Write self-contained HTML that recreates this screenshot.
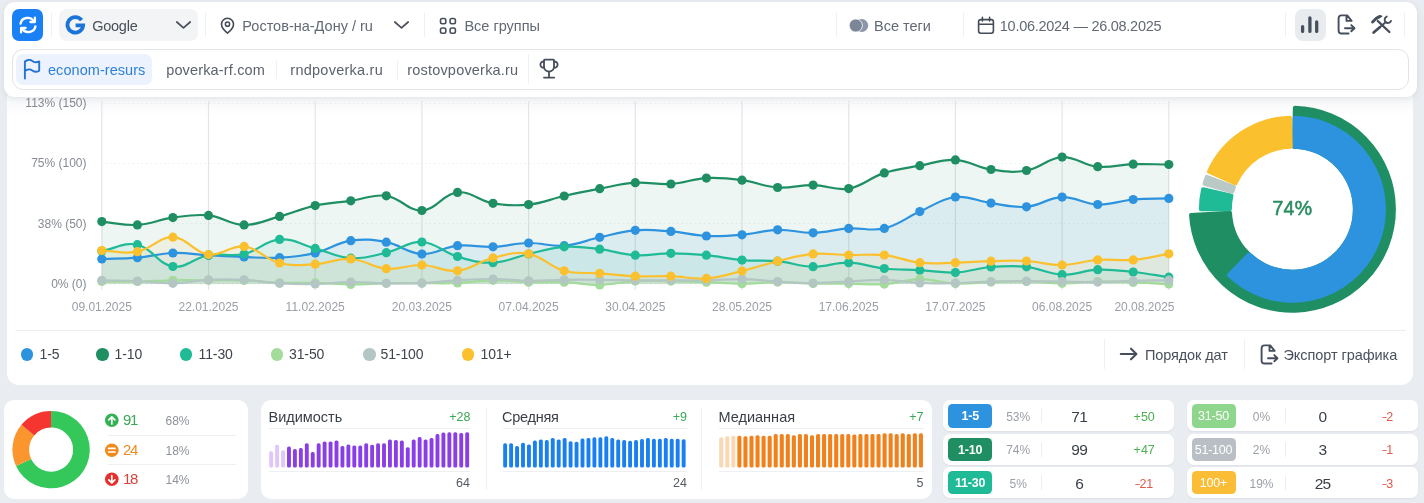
<!DOCTYPE html>
<html><head><meta charset="utf-8"><title>dashboard</title>
<style>
*{box-sizing:border-box;margin:0;padding:0}
html,body{width:1424px;height:503px;overflow:hidden}
body{background:#e9ecf0;font-family:"Liberation Sans",sans-serif;position:relative;color:#4a5060}
.abs{position:absolute}
.card{position:absolute;background:#fff;border-radius:10px}
.t{position:absolute;white-space:nowrap;line-height:1}
.hsep{position:absolute;width:1px;background:#eef0f3}
.xl{position:absolute;top:300px;width:80px;text-align:center;font-size:12px;color:#9a9ea6;line-height:14px;white-space:nowrap}
.yl{position:absolute;left:16px;width:70.5px;text-align:right;font-size:12px;color:#868b93;line-height:14px;white-space:nowrap}
.leg{position:absolute;top:346.2px;font-size:14px;line-height:16px;color:#3f444c;white-space:nowrap;letter-spacing:-.1px}
.dot{position:absolute;top:348px;width:12.5px;height:12.5px;border-radius:50%}
.trow{position:absolute;width:231px;height:31px;background:#fff;border-radius:7px;box-shadow:0 1px 2px rgba(40,50,70,.06)}
.badge{position:absolute;left:5px;top:3.9px;padding-top:.9px;width:44px;height:23.3px;border-radius:4.5px;color:#fff;font-weight:700;font-size:12.5px;line-height:22.5px;text-align:center;letter-spacing:-.2px}
.pct{position:absolute;left:50px;width:50px;top:9.5px;text-align:center;font-size:12px;line-height:14px;color:#9a9fa6}
.vsep{position:absolute;left:98px;top:8px;width:1px;height:15px;background:#eceef1}
.val{position:absolute;left:106px;width:60px;top:7.4px;text-align:center;font-size:15.5px;line-height:18px;color:#3a3f47;letter-spacing:-.8px}
.dl{position:absolute;left:171px;width:60px;top:9.7px;text-align:center;font-size:12.5px;line-height:15px}
.mt{position:absolute;top:409px;font-size:14.5px;line-height:17px;color:#3a3f47;white-space:nowrap}
.md{position:absolute;top:410px;font-size:12.5px;line-height:15px;color:#3aa856;text-align:right;white-space:nowrap}
.mv{position:absolute;top:476px;font-size:12.5px;line-height:15px;color:#555a62;text-align:right;white-space:nowrap}
.ml{position:absolute;height:1px;background:#edeff2}
.srow{position:absolute;left:123px;font-size:15px;line-height:18px;white-space:nowrap;letter-spacing:-1.3px;margin-top:-.6px}
.spct{position:absolute;left:165.5px;font-size:12px;line-height:14px;color:#8e939b;white-space:nowrap}
</style></head><body><div id="root" style="position:absolute;left:0;top:0;width:1424px;height:503px;will-change:transform;">

<!-- chart card -->
<div class="card" style="left:7px;top:88px;width:1406px;height:296.5px;border-radius:12px"></div>
<div class="abs" style="left:7px;top:96px;width:1406px;height:20px;background:linear-gradient(#f6f7f9,#fff)"></div>

<svg class="abs" style="left:0;top:0" width="1424" height="503" viewBox="0 0 1424 503">
<defs><linearGradient id="sh" x1="0" y1="0" x2="0" y2="1"><stop offset="0" stop-color="#dfe3ea" stop-opacity=".9"/><stop offset="1" stop-color="#ffffff" stop-opacity="0"/></linearGradient></defs>
<line x1="101.8" y1="101" x2="101.8" y2="290" stroke="#e3e5e9" stroke-width="1.2"/><line x1="208.5" y1="101" x2="208.5" y2="290" stroke="#e3e5e9" stroke-width="1.2"/><line x1="315.2" y1="101" x2="315.2" y2="290" stroke="#e3e5e9" stroke-width="1.2"/><line x1="421.9" y1="101" x2="421.9" y2="290" stroke="#e3e5e9" stroke-width="1.2"/><line x1="528.6" y1="101" x2="528.6" y2="290" stroke="#e3e5e9" stroke-width="1.2"/><line x1="635.3" y1="101" x2="635.3" y2="290" stroke="#e3e5e9" stroke-width="1.2"/><line x1="742.0" y1="101" x2="742.0" y2="290" stroke="#e3e5e9" stroke-width="1.2"/><line x1="848.7" y1="101" x2="848.7" y2="290" stroke="#e3e5e9" stroke-width="1.2"/><line x1="955.4" y1="101" x2="955.4" y2="290" stroke="#e3e5e9" stroke-width="1.2"/><line x1="1062.1" y1="101" x2="1062.1" y2="290" stroke="#e3e5e9" stroke-width="1.2"/><line x1="1168.8" y1="101" x2="1168.8" y2="290" stroke="#e3e5e9" stroke-width="1.2"/><line x1="101" y1="103.5" x2="1169" y2="103.5" stroke="#eceef1" stroke-width="1" stroke-dasharray="1.5 3"/><line x1="101" y1="163.5" x2="1169" y2="163.5" stroke="#eceef1" stroke-width="1" stroke-dasharray="1.5 3"/><line x1="101" y1="223.5" x2="1169" y2="223.5" stroke="#eceef1" stroke-width="1" stroke-dasharray="1.5 3"/><line x1="101" y1="284.0" x2="1169" y2="284.0" stroke="#eceef1" stroke-width="1" stroke-dasharray="1.5 3"/>
<path d="M101.8 259.0 C116.0 258.5 123.2 258.9 137.4 257.7 C151.7 256.5 158.7 253.5 172.9 253.0 C187.1 252.5 194.3 254.4 208.5 255.2 C222.7 256.0 229.8 256.5 244.1 257.0 C258.3 257.5 265.5 258.5 279.6 257.7 C293.9 256.9 301.3 256.3 315.2 253.0 C329.8 249.5 336.1 242.9 350.8 240.7 C364.6 238.6 372.5 239.6 386.3 242.2 C400.9 244.9 407.5 253.3 421.9 254.0 C435.9 254.7 443.1 247.2 457.5 245.7 C471.5 244.3 478.8 247.3 493.0 246.8 C507.3 246.3 514.4 243.2 528.6 243.0 C542.8 242.8 550.1 246.8 564.2 245.7 C578.6 244.5 585.5 240.4 599.7 237.3 C613.9 234.2 620.9 231.5 635.3 230.3 C649.4 229.1 656.7 230.3 670.9 231.4 C685.2 232.5 692.2 235.3 706.4 236.0 C720.6 236.7 727.8 236.0 742.0 234.8 C756.3 233.6 763.3 230.2 777.6 229.8 C791.8 229.4 798.9 233.1 813.1 232.8 C827.4 232.5 834.4 229.3 848.7 228.4 C862.9 227.5 870.8 231.6 884.3 228.4 C899.2 224.9 905.5 218.0 919.8 211.6 C933.9 205.4 940.7 198.8 955.4 197.0 C969.2 195.4 976.7 201.1 991.0 203.1 C1005.1 205.1 1012.5 208.0 1026.5 206.8 C1041.0 205.6 1047.8 197.6 1062.1 197.1 C1076.2 196.6 1083.4 204.0 1097.7 204.5 C1111.8 205.0 1118.9 200.7 1133.2 199.5 C1147.4 198.3 1154.6 198.8 1168.8 198.4 L1168.8 284.0 L101.8 284.0 Z" fill="#2d93de" fill-opacity="0.09"/>
<path d="M101.8 221.6 C116.0 222.9 123.3 225.7 137.4 224.9 C151.7 224.1 158.6 219.5 172.9 217.6 C187.0 215.7 194.5 214.0 208.5 215.4 C223.0 216.9 229.8 224.7 244.1 224.9 C258.2 225.1 265.5 220.2 279.6 216.4 C294.0 212.5 300.7 208.8 315.2 205.6 C329.2 202.5 336.5 202.8 350.8 200.8 C365.0 198.8 372.6 193.9 386.3 195.8 C401.1 197.8 407.9 211.2 421.9 210.5 C436.4 209.8 442.7 193.9 457.5 192.4 C471.2 191.0 478.5 200.8 493.0 203.3 C506.9 205.7 514.6 206.0 528.6 204.6 C543.0 203.1 549.9 199.2 564.2 196.0 C578.3 192.8 585.5 191.4 599.7 188.7 C613.9 186.0 621.0 183.6 635.3 182.7 C649.4 181.8 656.7 184.9 670.9 184.0 C685.2 183.1 692.1 178.9 706.4 178.1 C720.6 177.3 727.9 178.3 742.0 180.2 C756.4 182.1 763.2 186.5 777.6 187.5 C791.7 188.5 798.9 184.9 813.1 185.1 C827.4 185.3 835.1 190.9 848.7 188.6 C863.5 186.1 869.6 177.6 884.3 172.9 C898.0 168.5 905.6 168.3 919.8 165.7 C934.0 163.1 941.3 159.1 955.4 159.9 C969.8 160.7 976.5 167.3 991.0 169.5 C1005.0 171.6 1012.8 172.9 1026.5 170.5 C1041.2 167.9 1047.7 157.9 1062.1 157.1 C1076.1 156.4 1083.2 165.3 1097.7 166.7 C1111.7 168.1 1119.0 164.6 1133.2 164.2 C1147.5 163.8 1154.6 164.4 1168.8 164.5 L1168.8 284.0 L101.8 284.0 Z" fill="#1f8f63" fill-opacity="0.08"/>
<path d="M101.8 251.0 C116.0 248.5 124.2 241.8 137.4 244.7 C152.6 248.0 157.9 264.3 172.9 266.5 C186.4 268.5 193.9 257.8 208.5 255.2 C222.4 252.8 230.4 257.0 244.1 254.0 C258.8 250.7 265.1 240.5 279.6 239.4 C293.5 238.3 301.0 244.7 315.2 248.4 C329.5 252.2 336.4 257.3 350.8 258.2 C364.8 259.0 372.3 255.9 386.3 252.7 C400.8 249.4 407.9 241.3 421.9 242.0 C436.4 242.8 442.8 252.2 457.5 256.5 C471.3 260.5 478.9 263.2 493.0 262.7 C507.4 262.2 514.3 257.2 528.6 254.0 C542.8 250.8 549.8 247.8 564.2 246.8 C578.3 245.8 585.6 247.5 599.7 249.2 C614.0 250.9 621.0 254.4 635.3 255.2 C649.4 256.0 656.6 253.3 670.9 253.3 C685.1 253.3 692.3 253.8 706.4 255.2 C720.7 256.6 727.7 258.9 742.0 260.1 C756.2 261.3 763.4 259.9 777.6 261.2 C791.9 262.5 798.9 266.4 813.1 266.7 C827.3 267.0 834.5 262.3 848.7 262.7 C863.0 263.1 870.0 267.0 884.3 268.5 C898.4 270.0 905.6 269.4 919.8 270.2 C934.1 271.0 941.3 273.1 955.4 272.5 C969.7 271.9 976.7 268.1 991.0 267.0 C1005.1 265.9 1012.5 265.3 1026.5 266.8 C1040.9 268.4 1047.8 274.1 1062.1 274.7 C1076.2 275.3 1083.4 270.2 1097.7 269.7 C1111.8 269.2 1119.1 270.5 1133.2 272.0 C1147.5 273.5 1154.6 275.1 1168.8 277.2 L1168.8 284.0 L101.8 284.0 Z" fill="#1fba96" fill-opacity="0.085"/>
<path d="M101.8 281.5 C116.0 281.5 123.1 281.7 137.4 281.5 C151.6 281.3 158.7 280.5 172.9 280.3 C187.2 280.1 194.3 280.3 208.5 280.3 C222.7 280.3 229.9 279.8 244.1 280.3 C258.3 280.8 265.4 282.3 279.6 282.8 C293.8 283.3 301.0 282.5 315.2 282.8 C329.4 283.1 336.5 284.4 350.8 284.5 C365.0 284.6 372.1 283.6 386.3 283.3 C400.6 283.0 407.7 283.3 421.9 283.2 C436.1 283.1 443.3 283.6 457.5 283.0 C471.7 282.4 478.8 280.5 493.0 280.3 C507.3 280.1 514.4 281.8 528.6 282.2 C542.8 282.6 550.0 281.7 564.2 282.2 C578.4 282.7 585.5 285.1 599.7 284.9 C614.0 284.7 621.0 281.9 635.3 281.1 C649.5 280.3 656.6 280.9 670.9 281.1 C685.1 281.3 692.2 281.7 706.4 282.2 C720.7 282.7 727.8 283.7 742.0 283.7 C756.2 283.7 763.3 282.1 777.6 282.1 C791.8 282.1 798.9 283.3 813.1 283.6 C827.4 283.9 834.5 283.5 848.7 283.6 C862.9 283.7 870.1 285.0 884.3 284.1 C898.6 283.2 905.6 279.3 919.8 279.2 C934.1 279.1 941.1 283.0 955.4 283.6 C969.6 284.2 976.7 282.5 991.0 282.1 C1005.2 281.7 1012.3 281.3 1026.5 281.5 C1040.8 281.7 1047.9 283.3 1062.1 283.3 C1076.3 283.3 1083.4 281.7 1097.7 281.5 C1111.9 281.3 1119.0 281.9 1133.2 282.4 C1147.5 282.9 1154.6 283.4 1168.8 284.0 L1168.8 284.0 L101.8 284.0 Z" fill="#a3db9b" fill-opacity="0.09"/>
<path d="M101.8 280.3 C116.0 280.6 123.2 280.4 137.4 281.0 C151.6 281.6 158.7 283.5 172.9 283.3 C187.2 283.1 194.2 280.5 208.5 279.8 C222.7 279.1 229.9 279.1 244.1 279.8 C258.3 280.5 265.4 282.5 279.6 283.3 C293.8 284.1 301.0 284.3 315.2 284.0 C329.4 283.7 336.5 282.1 350.8 282.0 C365.0 281.9 372.1 283.1 386.3 283.3 C400.6 283.5 407.7 283.7 421.9 283.1 C436.2 282.5 443.2 281.1 457.5 280.3 C471.7 279.5 478.8 278.9 493.0 279.0 C507.3 279.1 514.4 280.6 528.6 280.8 C542.8 281.0 549.9 280.0 564.2 279.8 C578.4 279.6 585.5 279.7 599.7 279.8 C614.0 279.9 621.1 280.2 635.3 280.3 C649.5 280.4 656.6 280.3 670.9 280.3 C685.1 280.3 692.2 280.5 706.4 280.3 C720.7 280.1 727.8 278.9 742.0 279.1 C756.2 279.3 763.3 280.7 777.6 281.5 C791.8 282.3 798.9 283.0 813.1 283.0 C827.4 283.0 834.5 282.1 848.7 281.5 C862.9 280.9 870.1 279.5 884.3 279.8 C898.5 280.1 905.6 282.4 919.8 283.0 C934.0 283.6 941.2 283.3 955.4 283.0 C969.6 282.7 976.7 281.9 991.0 281.5 C1005.2 281.1 1012.3 281.2 1026.5 281.2 C1040.8 281.2 1047.9 281.3 1062.1 281.5 C1076.3 281.7 1083.5 282.2 1097.7 282.1 C1111.9 282.0 1119.0 281.3 1133.2 280.9 C1147.5 280.5 1154.6 280.5 1168.8 280.2 L1168.8 284.0 L101.8 284.0 Z" fill="#b3c6c3" fill-opacity="0.09"/>
<path d="M101.8 250.5 C116.0 251.0 123.7 254.3 137.4 251.7 C152.1 248.9 158.9 236.6 172.9 237.2 C187.4 237.8 193.7 252.6 208.5 254.5 C222.2 256.3 230.4 244.8 244.1 246.4 C258.8 248.2 264.7 259.3 279.6 263.0 C293.2 266.4 301.0 265.0 315.2 264.2 C329.5 263.4 336.7 258.1 350.8 259.0 C365.2 259.9 371.9 267.5 386.3 268.7 C400.3 269.9 407.7 264.6 421.9 265.0 C436.2 265.4 443.6 272.2 457.5 270.8 C472.0 269.3 478.4 261.4 493.0 257.9 C506.9 254.6 515.1 251.3 528.6 253.8 C543.5 256.5 549.2 266.7 564.2 270.8 C577.7 274.5 585.5 272.2 599.7 273.3 C614.0 274.4 621.1 275.6 635.3 276.2 C649.5 276.8 656.7 275.8 670.9 276.2 C685.1 276.6 692.3 279.4 706.4 278.4 C720.8 277.3 727.9 274.4 742.0 271.0 C756.3 267.5 763.2 264.6 777.6 261.2 C791.7 257.8 798.8 255.1 813.1 253.9 C827.2 252.7 834.5 254.9 848.7 255.1 C862.9 255.3 870.2 253.6 884.3 255.1 C898.7 256.6 905.5 261.2 919.8 262.7 C933.9 264.2 941.2 263.0 955.4 262.7 C969.6 262.4 976.7 261.5 991.0 261.2 C1005.2 260.9 1012.4 260.2 1026.5 261.0 C1040.8 261.8 1047.9 265.2 1062.1 265.0 C1076.4 264.8 1083.4 260.9 1097.7 259.9 C1111.8 258.9 1119.1 261.1 1133.2 259.9 C1147.6 258.7 1154.6 256.2 1168.8 253.8 L1168.8 284.0 L101.8 284.0 Z" fill="#fbc02d" fill-opacity="0.085"/>
<path d="M101.8 259.0 C116.0 258.5 123.2 258.9 137.4 257.7 C151.7 256.5 158.7 253.5 172.9 253.0 C187.1 252.5 194.3 254.4 208.5 255.2 C222.7 256.0 229.8 256.5 244.1 257.0 C258.3 257.5 265.5 258.5 279.6 257.7 C293.9 256.9 301.3 256.3 315.2 253.0 C329.8 249.5 336.1 242.9 350.8 240.7 C364.6 238.6 372.5 239.6 386.3 242.2 C400.9 244.9 407.5 253.3 421.9 254.0 C435.9 254.7 443.1 247.2 457.5 245.7 C471.5 244.3 478.8 247.3 493.0 246.8 C507.3 246.3 514.4 243.2 528.6 243.0 C542.8 242.8 550.1 246.8 564.2 245.7 C578.6 244.5 585.5 240.4 599.7 237.3 C613.9 234.2 620.9 231.5 635.3 230.3 C649.4 229.1 656.7 230.3 670.9 231.4 C685.2 232.5 692.2 235.3 706.4 236.0 C720.6 236.7 727.8 236.0 742.0 234.8 C756.3 233.6 763.3 230.2 777.6 229.8 C791.8 229.4 798.9 233.1 813.1 232.8 C827.4 232.5 834.4 229.3 848.7 228.4 C862.9 227.5 870.8 231.6 884.3 228.4 C899.2 224.9 905.5 218.0 919.8 211.6 C933.9 205.4 940.7 198.8 955.4 197.0 C969.2 195.4 976.7 201.1 991.0 203.1 C1005.1 205.1 1012.5 208.0 1026.5 206.8 C1041.0 205.6 1047.8 197.6 1062.1 197.1 C1076.2 196.6 1083.4 204.0 1097.7 204.5 C1111.8 205.0 1118.9 200.7 1133.2 199.5 C1147.4 198.3 1154.6 198.8 1168.8 198.4" fill="none" stroke="#2d93de" stroke-width="2.2" stroke-linejoin="round" stroke-linecap="round"/>
<g fill="#2d93de"><circle cx="101.8" cy="259.0" r="4.6"/><circle cx="137.4" cy="257.7" r="4.6"/><circle cx="172.9" cy="253.0" r="4.6"/><circle cx="208.5" cy="255.2" r="4.6"/><circle cx="244.1" cy="257.0" r="4.6"/><circle cx="279.6" cy="257.7" r="4.6"/><circle cx="315.2" cy="253.0" r="4.6"/><circle cx="350.8" cy="240.7" r="4.6"/><circle cx="386.3" cy="242.2" r="4.6"/><circle cx="421.9" cy="254.0" r="4.6"/><circle cx="457.5" cy="245.7" r="4.6"/><circle cx="493.0" cy="246.8" r="4.6"/><circle cx="528.6" cy="243.0" r="4.6"/><circle cx="564.2" cy="245.7" r="4.6"/><circle cx="599.7" cy="237.3" r="4.6"/><circle cx="635.3" cy="230.3" r="4.6"/><circle cx="670.9" cy="231.4" r="4.6"/><circle cx="706.4" cy="236.0" r="4.6"/><circle cx="742.0" cy="234.8" r="4.6"/><circle cx="777.6" cy="229.8" r="4.6"/><circle cx="813.1" cy="232.8" r="4.6"/><circle cx="848.7" cy="228.4" r="4.6"/><circle cx="884.3" cy="228.4" r="4.6"/><circle cx="919.8" cy="211.6" r="4.6"/><circle cx="955.4" cy="197.0" r="4.6"/><circle cx="991.0" cy="203.1" r="4.6"/><circle cx="1026.5" cy="206.8" r="4.6"/><circle cx="1062.1" cy="197.1" r="4.6"/><circle cx="1097.7" cy="204.5" r="4.6"/><circle cx="1133.2" cy="199.5" r="4.6"/><circle cx="1168.8" cy="198.4" r="4.6"/></g>
<path d="M101.8 221.6 C116.0 222.9 123.3 225.7 137.4 224.9 C151.7 224.1 158.6 219.5 172.9 217.6 C187.0 215.7 194.5 214.0 208.5 215.4 C223.0 216.9 229.8 224.7 244.1 224.9 C258.2 225.1 265.5 220.2 279.6 216.4 C294.0 212.5 300.7 208.8 315.2 205.6 C329.2 202.5 336.5 202.8 350.8 200.8 C365.0 198.8 372.6 193.9 386.3 195.8 C401.1 197.8 407.9 211.2 421.9 210.5 C436.4 209.8 442.7 193.9 457.5 192.4 C471.2 191.0 478.5 200.8 493.0 203.3 C506.9 205.7 514.6 206.0 528.6 204.6 C543.0 203.1 549.9 199.2 564.2 196.0 C578.3 192.8 585.5 191.4 599.7 188.7 C613.9 186.0 621.0 183.6 635.3 182.7 C649.4 181.8 656.7 184.9 670.9 184.0 C685.2 183.1 692.1 178.9 706.4 178.1 C720.6 177.3 727.9 178.3 742.0 180.2 C756.4 182.1 763.2 186.5 777.6 187.5 C791.7 188.5 798.9 184.9 813.1 185.1 C827.4 185.3 835.1 190.9 848.7 188.6 C863.5 186.1 869.6 177.6 884.3 172.9 C898.0 168.5 905.6 168.3 919.8 165.7 C934.0 163.1 941.3 159.1 955.4 159.9 C969.8 160.7 976.5 167.3 991.0 169.5 C1005.0 171.6 1012.8 172.9 1026.5 170.5 C1041.2 167.9 1047.7 157.9 1062.1 157.1 C1076.1 156.4 1083.2 165.3 1097.7 166.7 C1111.7 168.1 1119.0 164.6 1133.2 164.2 C1147.5 163.8 1154.6 164.4 1168.8 164.5" fill="none" stroke="#1f8f63" stroke-width="2.2" stroke-linejoin="round" stroke-linecap="round"/>
<g fill="#1f8f63"><circle cx="101.8" cy="221.6" r="4.6"/><circle cx="137.4" cy="224.9" r="4.6"/><circle cx="172.9" cy="217.6" r="4.6"/><circle cx="208.5" cy="215.4" r="4.6"/><circle cx="244.1" cy="224.9" r="4.6"/><circle cx="279.6" cy="216.4" r="4.6"/><circle cx="315.2" cy="205.6" r="4.6"/><circle cx="350.8" cy="200.8" r="4.6"/><circle cx="386.3" cy="195.8" r="4.6"/><circle cx="421.9" cy="210.5" r="4.6"/><circle cx="457.5" cy="192.4" r="4.6"/><circle cx="493.0" cy="203.3" r="4.6"/><circle cx="528.6" cy="204.6" r="4.6"/><circle cx="564.2" cy="196.0" r="4.6"/><circle cx="599.7" cy="188.7" r="4.6"/><circle cx="635.3" cy="182.7" r="4.6"/><circle cx="670.9" cy="184.0" r="4.6"/><circle cx="706.4" cy="178.1" r="4.6"/><circle cx="742.0" cy="180.2" r="4.6"/><circle cx="777.6" cy="187.5" r="4.6"/><circle cx="813.1" cy="185.1" r="4.6"/><circle cx="848.7" cy="188.6" r="4.6"/><circle cx="884.3" cy="172.9" r="4.6"/><circle cx="919.8" cy="165.7" r="4.6"/><circle cx="955.4" cy="159.9" r="4.6"/><circle cx="991.0" cy="169.5" r="4.6"/><circle cx="1026.5" cy="170.5" r="4.6"/><circle cx="1062.1" cy="157.1" r="4.6"/><circle cx="1097.7" cy="166.7" r="4.6"/><circle cx="1133.2" cy="164.2" r="4.6"/><circle cx="1168.8" cy="164.5" r="4.6"/></g>
<path d="M101.8 251.0 C116.0 248.5 124.2 241.8 137.4 244.7 C152.6 248.0 157.9 264.3 172.9 266.5 C186.4 268.5 193.9 257.8 208.5 255.2 C222.4 252.8 230.4 257.0 244.1 254.0 C258.8 250.7 265.1 240.5 279.6 239.4 C293.5 238.3 301.0 244.7 315.2 248.4 C329.5 252.2 336.4 257.3 350.8 258.2 C364.8 259.0 372.3 255.9 386.3 252.7 C400.8 249.4 407.9 241.3 421.9 242.0 C436.4 242.8 442.8 252.2 457.5 256.5 C471.3 260.5 478.9 263.2 493.0 262.7 C507.4 262.2 514.3 257.2 528.6 254.0 C542.8 250.8 549.8 247.8 564.2 246.8 C578.3 245.8 585.6 247.5 599.7 249.2 C614.0 250.9 621.0 254.4 635.3 255.2 C649.4 256.0 656.6 253.3 670.9 253.3 C685.1 253.3 692.3 253.8 706.4 255.2 C720.7 256.6 727.7 258.9 742.0 260.1 C756.2 261.3 763.4 259.9 777.6 261.2 C791.9 262.5 798.9 266.4 813.1 266.7 C827.3 267.0 834.5 262.3 848.7 262.7 C863.0 263.1 870.0 267.0 884.3 268.5 C898.4 270.0 905.6 269.4 919.8 270.2 C934.1 271.0 941.3 273.1 955.4 272.5 C969.7 271.9 976.7 268.1 991.0 267.0 C1005.1 265.9 1012.5 265.3 1026.5 266.8 C1040.9 268.4 1047.8 274.1 1062.1 274.7 C1076.2 275.3 1083.4 270.2 1097.7 269.7 C1111.8 269.2 1119.1 270.5 1133.2 272.0 C1147.5 273.5 1154.6 275.1 1168.8 277.2" fill="none" stroke="#1fba96" stroke-width="2.2" stroke-linejoin="round" stroke-linecap="round"/>
<g fill="#1fba96"><circle cx="101.8" cy="251.0" r="4.6"/><circle cx="137.4" cy="244.7" r="4.6"/><circle cx="172.9" cy="266.5" r="4.6"/><circle cx="208.5" cy="255.2" r="4.6"/><circle cx="244.1" cy="254.0" r="4.6"/><circle cx="279.6" cy="239.4" r="4.6"/><circle cx="315.2" cy="248.4" r="4.6"/><circle cx="350.8" cy="258.2" r="4.6"/><circle cx="386.3" cy="252.7" r="4.6"/><circle cx="421.9" cy="242.0" r="4.6"/><circle cx="457.5" cy="256.5" r="4.6"/><circle cx="493.0" cy="262.7" r="4.6"/><circle cx="528.6" cy="254.0" r="4.6"/><circle cx="564.2" cy="246.8" r="4.6"/><circle cx="599.7" cy="249.2" r="4.6"/><circle cx="635.3" cy="255.2" r="4.6"/><circle cx="670.9" cy="253.3" r="4.6"/><circle cx="706.4" cy="255.2" r="4.6"/><circle cx="742.0" cy="260.1" r="4.6"/><circle cx="777.6" cy="261.2" r="4.6"/><circle cx="813.1" cy="266.7" r="4.6"/><circle cx="848.7" cy="262.7" r="4.6"/><circle cx="884.3" cy="268.5" r="4.6"/><circle cx="919.8" cy="270.2" r="4.6"/><circle cx="955.4" cy="272.5" r="4.6"/><circle cx="991.0" cy="267.0" r="4.6"/><circle cx="1026.5" cy="266.8" r="4.6"/><circle cx="1062.1" cy="274.7" r="4.6"/><circle cx="1097.7" cy="269.7" r="4.6"/><circle cx="1133.2" cy="272.0" r="4.6"/><circle cx="1168.8" cy="277.2" r="4.6"/></g>
<path d="M101.8 281.5 C116.0 281.5 123.1 281.7 137.4 281.5 C151.6 281.3 158.7 280.5 172.9 280.3 C187.2 280.1 194.3 280.3 208.5 280.3 C222.7 280.3 229.9 279.8 244.1 280.3 C258.3 280.8 265.4 282.3 279.6 282.8 C293.8 283.3 301.0 282.5 315.2 282.8 C329.4 283.1 336.5 284.4 350.8 284.5 C365.0 284.6 372.1 283.6 386.3 283.3 C400.6 283.0 407.7 283.3 421.9 283.2 C436.1 283.1 443.3 283.6 457.5 283.0 C471.7 282.4 478.8 280.5 493.0 280.3 C507.3 280.1 514.4 281.8 528.6 282.2 C542.8 282.6 550.0 281.7 564.2 282.2 C578.4 282.7 585.5 285.1 599.7 284.9 C614.0 284.7 621.0 281.9 635.3 281.1 C649.5 280.3 656.6 280.9 670.9 281.1 C685.1 281.3 692.2 281.7 706.4 282.2 C720.7 282.7 727.8 283.7 742.0 283.7 C756.2 283.7 763.3 282.1 777.6 282.1 C791.8 282.1 798.9 283.3 813.1 283.6 C827.4 283.9 834.5 283.5 848.7 283.6 C862.9 283.7 870.1 285.0 884.3 284.1 C898.6 283.2 905.6 279.3 919.8 279.2 C934.1 279.1 941.1 283.0 955.4 283.6 C969.6 284.2 976.7 282.5 991.0 282.1 C1005.2 281.7 1012.3 281.3 1026.5 281.5 C1040.8 281.7 1047.9 283.3 1062.1 283.3 C1076.3 283.3 1083.4 281.7 1097.7 281.5 C1111.9 281.3 1119.0 281.9 1133.2 282.4 C1147.5 282.9 1154.6 283.4 1168.8 284.0" fill="none" stroke="#a3db9b" stroke-width="2.2" stroke-linejoin="round" stroke-linecap="round"/>
<g fill="#a3db9b"><circle cx="101.8" cy="281.5" r="4.6"/><circle cx="137.4" cy="281.5" r="4.6"/><circle cx="172.9" cy="280.3" r="4.6"/><circle cx="208.5" cy="280.3" r="4.6"/><circle cx="244.1" cy="280.3" r="4.6"/><circle cx="279.6" cy="282.8" r="4.6"/><circle cx="315.2" cy="282.8" r="4.6"/><circle cx="350.8" cy="284.5" r="4.6"/><circle cx="386.3" cy="283.3" r="4.6"/><circle cx="421.9" cy="283.2" r="4.6"/><circle cx="457.5" cy="283.0" r="4.6"/><circle cx="493.0" cy="280.3" r="4.6"/><circle cx="528.6" cy="282.2" r="4.6"/><circle cx="564.2" cy="282.2" r="4.6"/><circle cx="599.7" cy="284.9" r="4.6"/><circle cx="635.3" cy="281.1" r="4.6"/><circle cx="670.9" cy="281.1" r="4.6"/><circle cx="706.4" cy="282.2" r="4.6"/><circle cx="742.0" cy="283.7" r="4.6"/><circle cx="777.6" cy="282.1" r="4.6"/><circle cx="813.1" cy="283.6" r="4.6"/><circle cx="848.7" cy="283.6" r="4.6"/><circle cx="884.3" cy="284.1" r="4.6"/><circle cx="919.8" cy="279.2" r="4.6"/><circle cx="955.4" cy="283.6" r="4.6"/><circle cx="991.0" cy="282.1" r="4.6"/><circle cx="1026.5" cy="281.5" r="4.6"/><circle cx="1062.1" cy="283.3" r="4.6"/><circle cx="1097.7" cy="281.5" r="4.6"/><circle cx="1133.2" cy="282.4" r="4.6"/><circle cx="1168.8" cy="284.0" r="4.6"/></g>
<path d="M101.8 280.3 C116.0 280.6 123.2 280.4 137.4 281.0 C151.6 281.6 158.7 283.5 172.9 283.3 C187.2 283.1 194.2 280.5 208.5 279.8 C222.7 279.1 229.9 279.1 244.1 279.8 C258.3 280.5 265.4 282.5 279.6 283.3 C293.8 284.1 301.0 284.3 315.2 284.0 C329.4 283.7 336.5 282.1 350.8 282.0 C365.0 281.9 372.1 283.1 386.3 283.3 C400.6 283.5 407.7 283.7 421.9 283.1 C436.2 282.5 443.2 281.1 457.5 280.3 C471.7 279.5 478.8 278.9 493.0 279.0 C507.3 279.1 514.4 280.6 528.6 280.8 C542.8 281.0 549.9 280.0 564.2 279.8 C578.4 279.6 585.5 279.7 599.7 279.8 C614.0 279.9 621.1 280.2 635.3 280.3 C649.5 280.4 656.6 280.3 670.9 280.3 C685.1 280.3 692.2 280.5 706.4 280.3 C720.7 280.1 727.8 278.9 742.0 279.1 C756.2 279.3 763.3 280.7 777.6 281.5 C791.8 282.3 798.9 283.0 813.1 283.0 C827.4 283.0 834.5 282.1 848.7 281.5 C862.9 280.9 870.1 279.5 884.3 279.8 C898.5 280.1 905.6 282.4 919.8 283.0 C934.0 283.6 941.2 283.3 955.4 283.0 C969.6 282.7 976.7 281.9 991.0 281.5 C1005.2 281.1 1012.3 281.2 1026.5 281.2 C1040.8 281.2 1047.9 281.3 1062.1 281.5 C1076.3 281.7 1083.5 282.2 1097.7 282.1 C1111.9 282.0 1119.0 281.3 1133.2 280.9 C1147.5 280.5 1154.6 280.5 1168.8 280.2" fill="none" stroke="#b3c6c3" stroke-width="2.2" stroke-linejoin="round" stroke-linecap="round"/>
<g fill="#b3c6c3"><circle cx="101.8" cy="280.3" r="4.6"/><circle cx="137.4" cy="281.0" r="4.6"/><circle cx="172.9" cy="283.3" r="4.6"/><circle cx="208.5" cy="279.8" r="4.6"/><circle cx="244.1" cy="279.8" r="4.6"/><circle cx="279.6" cy="283.3" r="4.6"/><circle cx="315.2" cy="284.0" r="4.6"/><circle cx="350.8" cy="282.0" r="4.6"/><circle cx="386.3" cy="283.3" r="4.6"/><circle cx="421.9" cy="283.1" r="4.6"/><circle cx="457.5" cy="280.3" r="4.6"/><circle cx="493.0" cy="279.0" r="4.6"/><circle cx="528.6" cy="280.8" r="4.6"/><circle cx="564.2" cy="279.8" r="4.6"/><circle cx="599.7" cy="279.8" r="4.6"/><circle cx="635.3" cy="280.3" r="4.6"/><circle cx="670.9" cy="280.3" r="4.6"/><circle cx="706.4" cy="280.3" r="4.6"/><circle cx="742.0" cy="279.1" r="4.6"/><circle cx="777.6" cy="281.5" r="4.6"/><circle cx="813.1" cy="283.0" r="4.6"/><circle cx="848.7" cy="281.5" r="4.6"/><circle cx="884.3" cy="279.8" r="4.6"/><circle cx="919.8" cy="283.0" r="4.6"/><circle cx="955.4" cy="283.0" r="4.6"/><circle cx="991.0" cy="281.5" r="4.6"/><circle cx="1026.5" cy="281.2" r="4.6"/><circle cx="1062.1" cy="281.5" r="4.6"/><circle cx="1097.7" cy="282.1" r="4.6"/><circle cx="1133.2" cy="280.9" r="4.6"/><circle cx="1168.8" cy="280.2" r="4.6"/></g>
<path d="M101.8 250.5 C116.0 251.0 123.7 254.3 137.4 251.7 C152.1 248.9 158.9 236.6 172.9 237.2 C187.4 237.8 193.7 252.6 208.5 254.5 C222.2 256.3 230.4 244.8 244.1 246.4 C258.8 248.2 264.7 259.3 279.6 263.0 C293.2 266.4 301.0 265.0 315.2 264.2 C329.5 263.4 336.7 258.1 350.8 259.0 C365.2 259.9 371.9 267.5 386.3 268.7 C400.3 269.9 407.7 264.6 421.9 265.0 C436.2 265.4 443.6 272.2 457.5 270.8 C472.0 269.3 478.4 261.4 493.0 257.9 C506.9 254.6 515.1 251.3 528.6 253.8 C543.5 256.5 549.2 266.7 564.2 270.8 C577.7 274.5 585.5 272.2 599.7 273.3 C614.0 274.4 621.1 275.6 635.3 276.2 C649.5 276.8 656.7 275.8 670.9 276.2 C685.1 276.6 692.3 279.4 706.4 278.4 C720.8 277.3 727.9 274.4 742.0 271.0 C756.3 267.5 763.2 264.6 777.6 261.2 C791.7 257.8 798.8 255.1 813.1 253.9 C827.2 252.7 834.5 254.9 848.7 255.1 C862.9 255.3 870.2 253.6 884.3 255.1 C898.7 256.6 905.5 261.2 919.8 262.7 C933.9 264.2 941.2 263.0 955.4 262.7 C969.6 262.4 976.7 261.5 991.0 261.2 C1005.2 260.9 1012.4 260.2 1026.5 261.0 C1040.8 261.8 1047.9 265.2 1062.1 265.0 C1076.4 264.8 1083.4 260.9 1097.7 259.9 C1111.8 258.9 1119.1 261.1 1133.2 259.9 C1147.6 258.7 1154.6 256.2 1168.8 253.8" fill="none" stroke="#fbc02d" stroke-width="2.2" stroke-linejoin="round" stroke-linecap="round"/>
<g fill="#fbc02d"><circle cx="101.8" cy="250.5" r="4.6"/><circle cx="137.4" cy="251.7" r="4.6"/><circle cx="172.9" cy="237.2" r="4.6"/><circle cx="208.5" cy="254.5" r="4.6"/><circle cx="244.1" cy="246.4" r="4.6"/><circle cx="279.6" cy="263.0" r="4.6"/><circle cx="315.2" cy="264.2" r="4.6"/><circle cx="350.8" cy="259.0" r="4.6"/><circle cx="386.3" cy="268.7" r="4.6"/><circle cx="421.9" cy="265.0" r="4.6"/><circle cx="457.5" cy="270.8" r="4.6"/><circle cx="493.0" cy="257.9" r="4.6"/><circle cx="528.6" cy="253.8" r="4.6"/><circle cx="564.2" cy="270.8" r="4.6"/><circle cx="599.7" cy="273.3" r="4.6"/><circle cx="635.3" cy="276.2" r="4.6"/><circle cx="670.9" cy="276.2" r="4.6"/><circle cx="706.4" cy="278.4" r="4.6"/><circle cx="742.0" cy="271.0" r="4.6"/><circle cx="777.6" cy="261.2" r="4.6"/><circle cx="813.1" cy="253.9" r="4.6"/><circle cx="848.7" cy="255.1" r="4.6"/><circle cx="884.3" cy="255.1" r="4.6"/><circle cx="919.8" cy="262.7" r="4.6"/><circle cx="955.4" cy="262.7" r="4.6"/><circle cx="991.0" cy="261.2" r="4.6"/><circle cx="1026.5" cy="261.0" r="4.6"/><circle cx="1062.1" cy="265.0" r="4.6"/><circle cx="1097.7" cy="259.9" r="4.6"/><circle cx="1133.2" cy="259.9" r="4.6"/><circle cx="1168.8" cy="253.8" r="4.6"/></g>
<path d="M1294.88 107.78 A101.50 101.50 0 1 1 1191.06 214.92 L1230.00 212.74 A62.50 62.50 0 1 0 1293.93 146.77 Z" fill="#1f8f63" stroke="#1f8f63" stroke-width="4" stroke-linejoin="round"/><path d="M1294.80 117.78 A91.50 91.50 0 1 1 1228.95 275.18 L1249.06 254.28 A62.50 62.50 0 1 0 1294.04 146.77 Z" fill="#2d93de" stroke="#2d93de" stroke-width="4" stroke-linejoin="round"/><path d="M1200.90 209.25 A91.50 91.50 0 0 1 1203.10 189.29 L1231.41 195.62 A62.50 62.50 0 0 0 1229.90 209.25 Z" fill="#1fba96" stroke="#1fba96" stroke-width="4" stroke-linejoin="round"/><path d="M1204.53 183.72 A91.50 91.50 0 0 1 1206.81 176.91 L1233.93 187.16 A62.50 62.50 0 0 0 1232.38 191.81 Z" fill="#b9c9c6" stroke="#b9c9c6" stroke-width="4" stroke-linejoin="round"/><path d="M1209.01 171.60 A91.50 91.50 0 0 1 1290.00 117.78 L1290.76 146.77 A62.50 62.50 0 0 0 1235.44 183.53 Z" fill="#fbc02d" stroke="#fbc02d" stroke-width="4" stroke-linejoin="round"/>
</svg>
<div class="t" style="left:1252.4px;top:198.5px;width:80px;text-align:center;font-size:19.5px;font-weight:400;-webkit-text-stroke:.55px #2a8c60;color:#2a8c60;letter-spacing:.3px">74%</div>

<div class="yl" style="top:96px">113% (150)</div>
<div class="yl" style="top:156px">75% (100)</div>
<div class="yl" style="top:216.5px">38% (50)</div>
<div class="yl" style="top:277px">0% (0)</div>
<div class="xl" style="left:61.8px">09.01.2025</div><div class="xl" style="left:168.5px">22.01.2025</div><div class="xl" style="left:275.2px">11.02.2025</div><div class="xl" style="left:381.9px">20.03.2025</div><div class="xl" style="left:488.6px">07.04.2025</div><div class="xl" style="left:595.3px">30.04.2025</div><div class="xl" style="left:702.0px">28.05.2025</div><div class="xl" style="left:808.7px">17.06.2025</div><div class="xl" style="left:915.4px">17.07.2025</div><div class="xl" style="left:1022.1px">06.08.2025</div><div class="xl" style="left:1094.5px;text-align:right">20.08.2025</div>

<div class="abs" style="left:15.5px;top:329.5px;width:1390px;height:1px;background:#eceef1"></div>
<div class="dot" style="left:20.8px;background:#2d93de"></div><div class="leg" style="left:39.5px">1-5</div>
<div class="dot" style="left:96.3px;background:#1f8f63"></div><div class="leg" style="left:114.5px">1-10</div>
<div class="dot" style="left:179.5px;background:#1fba96"></div><div class="leg" style="left:198.5px">11-30</div>
<div class="dot" style="left:270.8px;background:#a3db9b"></div><div class="leg" style="left:289px">31-50</div>
<div class="dot" style="left:363px;background:#b3c6c3"></div><div class="leg" style="left:380.5px">51-100</div>
<div class="dot" style="left:461.8px;background:#fbc02d"></div><div class="leg" style="left:480.5px">101+</div>

<div class="hsep" style="left:1104px;top:339px;height:30px"></div>
<div class="hsep" style="left:1244px;top:339px;height:30px"></div>
<svg class="abs" style="left:1119px;top:345px" width="20" height="18" viewBox="0 0 20 18"><path d="M1.8 9H17.3M12 3.7L17.4 9L12 14.3" fill="none" stroke="#464e5c" stroke-width="2.1" stroke-linecap="round" stroke-linejoin="round"/></svg>
<div class="t" style="left:1144.9px;top:346.5px;font-size:14.5px;color:#4a505c;line-height:16px;letter-spacing:-.1px">Порядок дат</div>
<svg class="abs" style="left:1259px;top:343.5px" width="20" height="22" viewBox="0 0 20 22"><path d="M12.6 19.5H5.4Q2.6 19.5 2.6 16.7V4.2Q2.6 1.4 5.4 1.4H11.2L15.6 6.9H10.5V1.8" fill="none" stroke="#464e5c" stroke-width="1.9" stroke-linecap="round" stroke-linejoin="round"/><path d="M9 14.2H18.2M15.3 11.1L18.5 14.2L15.3 17.3" fill="none" stroke="#464e5c" stroke-width="1.9" stroke-linecap="round" stroke-linejoin="round"/></svg>
<div class="t" style="left:1283.5px;top:346.5px;font-size:14.5px;color:#4a505c;line-height:16px;letter-spacing:-.07px">Экспорт графика</div>

<!-- header card -->
<div class="card" style="left:3.5px;top:2px;width:1413.7px;height:94.8px;border-radius:11px;box-shadow:0 2px 6px rgba(60,70,90,.10)"></div>
<div class="abs" style="left:12px;top:9px;width:31px;height:31.5px;border-radius:7px;background:#1a80f5"></div>
<svg class="abs" style="left:16.5px;top:14px" width="22" height="22" viewBox="0 0 22 22"><path d="M3.6 9.6A7 6.6 0 0 1 16.8 7.6M18.4 12.4A7 6.6 0 0 1 5.2 14.4" fill="none" stroke="#fff" stroke-width="2.4" stroke-linecap="round"/><path d="M17.9 3.6V8H13.4M4.1 18.4V14H8.6" fill="none" stroke="#fff" stroke-width="2.3" stroke-linecap="round" stroke-linejoin="round"/></svg>
<div class="hsep" style="left:51px;top:13px;height:24px"></div>
<div class="abs" style="left:59px;top:9px;width:138.5px;height:31.5px;border-radius:8px;background:#f3f4f6"></div>
<svg class="abs" style="left:65px;top:14.5px" width="21" height="21" viewBox="0 0 21 21"><path d="M16.6 5.2A7.8 7.8 0 1 0 18.1 10.4H10.6" fill="none" stroke="#1a73d9" stroke-width="3.8"/></svg>
<div class="t" style="left:92.2px;top:17.7px;font-size:14.5px;line-height:16px;color:#4a4f57;letter-spacing:-.25px">Google</div>
<svg class="abs" style="left:175.3px;top:20px" width="17" height="11" viewBox="0 0 17 11"><path d="M1.8 2L8.5 7.9L15.2 2" fill="none" stroke="#4a505c" stroke-width="1.7" stroke-linecap="round" stroke-linejoin="round"/></svg>
<div class="hsep" style="left:205px;top:13px;height:24px"></div>
<svg class="abs" style="left:219.2px;top:16.6px" width="17" height="18" viewBox="0 0 17 18"><path d="M8.5 16.2C8.5 16.2 2.5 11.3 2.5 7.2A6 6 0 0 1 14.5 7.2C14.5 11.3 8.5 16.2 8.5 16.2Z" fill="none" stroke="#434a58" stroke-width="1.6" stroke-linejoin="round"/><circle cx="8.5" cy="7.2" r="2.1" fill="none" stroke="#434a58" stroke-width="1.5"/></svg>
<div class="t" style="left:242.3px;top:17.7px;font-size:14.5px;line-height:16px;color:#626975">Ростов-на-Дону / ru</div>
<svg class="abs" style="left:392.6px;top:20px" width="17" height="11" viewBox="0 0 17 11"><path d="M1.8 2L8.5 7.9L15.2 2" fill="none" stroke="#4a505c" stroke-width="1.7" stroke-linecap="round" stroke-linejoin="round"/></svg>
<div class="hsep" style="left:423.5px;top:13px;height:24px"></div>
<svg class="abs" style="left:439px;top:16.8px" width="18" height="18" viewBox="0 0 18 18"><g fill="none" stroke="#464e5c" stroke-width="1.6"><rect x="1.5" y="1.5" width="5.3" height="5.2" rx="1.7"/><rect x="11.1" y="1.5" width="5.3" height="5.2" rx="1.7"/><rect x="1.5" y="11" width="5.3" height="5.2" rx="1.7"/><rect x="11.1" y="11" width="5.3" height="5.2" rx="1.7"/></g></svg>
<div class="t" style="left:464.4px;top:17.7px;font-size:14.5px;line-height:16px;color:#626975">Все группы</div>

<div class="hsep" style="left:836px;top:13px;height:24px"></div>
<svg class="abs" style="left:848px;top:18px" width="22" height="15" viewBox="0 0 22 15"><circle cx="13.8" cy="7.5" r="6.4" fill="#8b96a8"/><circle cx="7.8" cy="7.5" r="6.6" fill="#7b8698" stroke="#fff" stroke-width=".8"/></svg>
<div class="t" style="left:874px;top:17.7px;font-size:14.5px;line-height:16px;color:#626975">Все теги</div>
<div class="hsep" style="left:963px;top:13px;height:24px"></div>
<svg class="abs" style="left:976.5px;top:16px" width="18" height="19" viewBox="0 0 18 19"><g fill="none" stroke="#434a58" stroke-width="1.6" stroke-linecap="round"><rect x="1.6" y="3.6" width="14.8" height="13.6" rx="2.2"/><path d="M1.8 8.2H16.2M5.4 1.4V5M12.6 1.4V5"/></g></svg>
<div class="t" style="left:999.8px;top:17.7px;font-size:14.5px;line-height:16px;color:#626975;letter-spacing:-.27px">10.06.2024 — 26.08.2025</div>
<div class="hsep" style="left:1285px;top:13px;height:24px"></div>
<div class="abs" style="left:1295px;top:9px;width:31px;height:31.5px;border-radius:8px;background:#e9ecef"></div>
<svg class="abs" style="left:1299px;top:14px" width="21" height="21" viewBox="0 0 21 21"><path d="M3.6 12.6V17.4M10.9 3.8V17.4M17.7 7.8V17.4" stroke="#48505e" stroke-width="3.3" stroke-linecap="round"/></svg>
<svg class="abs" style="left:1336.1px;top:14.1px" width="20" height="22" viewBox="0 0 20 22"><path d="M12.6 19.5H5.4Q2.6 19.5 2.6 16.7V4.2Q2.6 1.4 5.4 1.4H11.2L15.6 6.9H10.5V1.8" fill="none" stroke="#464e5c" stroke-width="1.9" stroke-linecap="round" stroke-linejoin="round"/><path d="M9 14.2H18.2M15.3 11.1L18.5 14.2L15.3 17.3" fill="none" stroke="#464e5c" stroke-width="1.9" stroke-linecap="round" stroke-linejoin="round"/></svg>
<svg class="abs" style="left:1370px;top:14px" width="23" height="22" viewBox="0 0 23 22"><g fill="none" stroke="#464e5c" stroke-linecap="round" stroke-linejoin="round"><path d="M3.6 18.6L9.8 13.2" stroke-width="2.7"/><path d="M9.8 13.2L15.6 8.2" stroke-width="1.8"/><path d="M7.8 7L19.4 18" stroke-width="2.4"/><path d="M2.6 8C4.4 5.4 6.8 3.6 9.8 2.5" stroke-width="3"/><path d="M9.8 2.5L11.6 2.2" stroke-width="1.6"/><path d="M16.7 2.6A3.3 3.3 0 1 0 21 6.9" stroke-width="1.9"/></g></svg>
<div class="hsep" style="left:1404px;top:13px;height:24px"></div>

<!-- domain bar -->
<div class="abs" style="left:12px;top:49px;width:1396.5px;height:40.5px;border:1px solid #e1e4e9;border-radius:11px;background:#fff"></div>
<div class="abs" style="left:16.2px;top:54.2px;width:136px;height:31px;border-radius:7px;background:#ecf3fe"></div>
<svg class="abs" style="left:22px;top:58.5px" width="20" height="21" viewBox="0 0 20 21"><path d="M2.9 19.6V2.4M2.9 2.7C5.3 0.6 8.4 0.5 10.3 1.9S14.6 3.9 17.2 2.4V11.7C14.6 13.3 12 12.7 10.3 11.4S5.3 9.9 2.9 12" fill="none" stroke="#2474d2" stroke-width="1.9" stroke-linecap="round" stroke-linejoin="round"/></svg>
<div class="t" style="left:48px;top:61.7px;font-size:14.5px;line-height:16px;color:#2f80d8;letter-spacing:.05px">econom-resurs</div>
<div class="t" style="left:166.2px;top:61.7px;font-size:14.5px;line-height:16px;color:#5c636f;letter-spacing:.15px">poverka-rf.com</div>
<div class="hsep" style="left:276px;top:60px;height:19px"></div>
<div class="t" style="left:290.3px;top:61.7px;font-size:14.5px;line-height:16px;color:#5c636f;letter-spacing:.25px">rndpoverka.ru</div>
<div class="hsep" style="left:397px;top:60px;height:19px"></div>
<div class="t" style="left:407.2px;top:61.7px;font-size:14.5px;line-height:16px;color:#5c636f;letter-spacing:.2px">rostovpoverka.ru</div>
<div class="hsep" style="left:527.8px;top:54px;height:30px"></div>
<svg class="abs" style="left:538px;top:58px" width="22" height="22" viewBox="0 0 22 22"><g fill="none" stroke="#464e5c" stroke-width="1.8" stroke-linecap="round" stroke-linejoin="round"><path d="M6.6 1.7H15.4Q16 1.7 16 2.3V8.6A5 5 0 0 1 6 8.6V2.3Q6 1.7 6.6 1.7Z"/><path d="M6 3.5C1.2 3.3 1.2 9.9 6 9.7M16 3.5C20.8 3.3 20.8 9.9 16 9.7M11 13.6V19.4M6 19.6H16.2"/></g></svg>

<!-- bottom cards -->
<div class="card" style="left:3.5px;top:400px;width:244.5px;height:98.5px"></div>
<svg class="abs" style="left:0;top:395px" width="260" height="108" viewBox="0 395 260 108"><path d="M51.10 410.90 A38.70 38.70 0 1 1 16.03 465.96 L31.16 458.90 A22.00 22.00 0 1 0 51.10 427.60 Z" fill="#34c759"/><path d="M16.03 465.96 A38.70 38.70 0 0 1 21.45 424.72 L34.25 435.46 A22.00 22.00 0 0 0 31.16 458.90 Z" fill="#fa962d"/><path d="M21.45 424.72 A38.70 38.70 0 0 1 51.10 410.90 L51.10 427.60 A22.00 22.00 0 0 0 34.25 435.46 Z" fill="#f5352f"/>
<circle cx="111.8" cy="420.3" r="6.8" fill="#34b155"/><path d="M111.8 424V417M108.8 419.8L111.8 416.8L114.8 419.8" fill="none" stroke="#fff" stroke-width="1.7" stroke-linecap="round" stroke-linejoin="round"/>
<circle cx="111.8" cy="450.2" r="6.8" fill="#f08a1c"/><path d="M108.6 448.4H115M108.6 452H115" fill="none" stroke="#fff" stroke-width="1.7" stroke-linecap="round"/>
<circle cx="111.8" cy="479.2" r="6.8" fill="#e6302b"/><path d="M111.8 475.6V482.6M108.8 479.8L111.8 482.8L114.8 479.8" fill="none" stroke="#fff" stroke-width="1.7" stroke-linecap="round" stroke-linejoin="round"/>
</svg>
<div class="srow" style="top:411.5px;color:#3aa856">91</div><div class="spct" style="top:413.5px">68%</div>
<div class="srow" style="top:441.5px;color:#ef8a25">24</div><div class="spct" style="top:443.5px">18%</div>
<div class="srow" style="top:470.5px;color:#d9433a">18</div><div class="spct" style="top:472.5px">14%</div>
<div class="ml" style="left:107.5px;top:435px;width:128px"></div>
<div class="ml" style="left:107.5px;top:464px;width:128px"></div>

<div class="card" style="left:260.5px;top:400px;width:671.5px;height:98.5px"></div>
<div class="mt" style="left:268.5px">Видимость</div><div class="md" style="left:420px;width:50.5px">+28</div>
<div class="ml" style="left:269px;top:428px;width:201px"></div><div class="ml" style="left:269px;top:470.5px;width:201px"></div>
<div class="mv" style="left:420px;width:50px">64</div>
<div class="hsep" style="left:485.5px;top:408px;height:82px"></div>
<div class="mt" style="left:502px;letter-spacing:-.25px">Средняя</div><div class="md" style="left:637px;width:50px">+9</div>
<div class="ml" style="left:502.5px;top:428px;width:184.5px"></div><div class="ml" style="left:502.5px;top:470.5px;width:184.5px"></div>
<div class="mv" style="left:637px;width:50px">24</div>
<div class="hsep" style="left:701px;top:408px;height:82px"></div>
<div class="mt" style="left:718.5px">Медианная</div><div class="md" style="left:873.5px;width:50px">+7</div>
<div class="ml" style="left:719px;top:428px;width:204.5px"></div><div class="ml" style="left:719px;top:470.5px;width:204.5px"></div>
<div class="mv" style="left:873.5px;width:50px">5</div>
<svg class="abs" style="left:260px;top:425px" width="680" height="50" viewBox="260 425 680 50"><rect x="269.20" y="451.30" width="3.9" height="16.30" rx="1.6" fill="#dfc6fb"/><rect x="275.14" y="444.80" width="3.9" height="22.80" rx="1.6" fill="#dfc6fb"/><rect x="281.08" y="450.20" width="3.9" height="17.40" rx="1.6" fill="#dfc6fb"/><rect x="287.02" y="446.60" width="3.9" height="21.00" rx="1.6" fill="#8a3ee6"/><rect x="292.96" y="449.10" width="3.9" height="18.50" rx="1.6" fill="#8a3ee6"/><rect x="298.90" y="448.10" width="3.9" height="19.50" rx="1.6" fill="#8a3ee6"/><rect x="304.84" y="443.30" width="3.9" height="24.30" rx="1.6" fill="#8a3ee6"/><rect x="310.78" y="452.10" width="3.9" height="15.50" rx="1.6" fill="#8a3ee6"/><rect x="316.72" y="443.30" width="3.9" height="24.30" rx="1.6" fill="#8a3ee6"/><rect x="322.66" y="441.60" width="3.9" height="26.00" rx="1.6" fill="#8a3ee6"/><rect x="328.60" y="441.60" width="3.9" height="26.00" rx="1.6" fill="#8a3ee6"/><rect x="334.54" y="440.60" width="3.9" height="27.00" rx="1.6" fill="#8a3ee6"/><rect x="340.48" y="445.90" width="3.9" height="21.70" rx="1.6" fill="#8a3ee6"/><rect x="346.42" y="444.40" width="3.9" height="23.20" rx="1.6" fill="#8a3ee6"/><rect x="352.36" y="445.50" width="3.9" height="22.10" rx="1.6" fill="#8a3ee6"/><rect x="358.30" y="445.50" width="3.9" height="22.10" rx="1.6" fill="#8a3ee6"/><rect x="364.24" y="443.30" width="3.9" height="24.30" rx="1.6" fill="#8a3ee6"/><rect x="370.18" y="444.80" width="3.9" height="22.80" rx="1.6" fill="#8a3ee6"/><rect x="376.12" y="443.30" width="3.9" height="24.30" rx="1.6" fill="#8a3ee6"/><rect x="382.06" y="443.30" width="3.9" height="24.30" rx="1.6" fill="#8a3ee6"/><rect x="388.00" y="439.50" width="3.9" height="28.10" rx="1.6" fill="#8a3ee6"/><rect x="393.94" y="440.10" width="3.9" height="27.50" rx="1.6" fill="#8a3ee6"/><rect x="399.88" y="440.60" width="3.9" height="27.00" rx="1.6" fill="#8a3ee6"/><rect x="405.82" y="447.20" width="3.9" height="20.40" rx="1.6" fill="#8a3ee6"/><rect x="411.76" y="439.50" width="3.9" height="28.10" rx="1.6" fill="#8a3ee6"/><rect x="417.70" y="437.10" width="3.9" height="30.50" rx="1.6" fill="#8a3ee6"/><rect x="423.64" y="439.50" width="3.9" height="28.10" rx="1.6" fill="#8a3ee6"/><rect x="429.58" y="438.00" width="3.9" height="29.60" rx="1.6" fill="#8a3ee6"/><rect x="435.52" y="434.10" width="3.9" height="33.50" rx="1.6" fill="#8a3ee6"/><rect x="441.46" y="432.60" width="3.9" height="35.00" rx="1.6" fill="#8a3ee6"/><rect x="447.40" y="432.20" width="3.9" height="35.40" rx="1.6" fill="#8a3ee6"/><rect x="453.34" y="432.20" width="3.9" height="35.40" rx="1.6" fill="#8a3ee6"/><rect x="459.28" y="433.00" width="3.9" height="34.60" rx="1.6" fill="#8a3ee6"/><rect x="465.22" y="432.20" width="3.9" height="35.40" rx="1.6" fill="#8a3ee6"/><rect x="503.20" y="443.30" width="3.9" height="24.30" rx="1.6" fill="#1a7ff0"/><rect x="509.15" y="443.30" width="3.9" height="24.30" rx="1.6" fill="#1a7ff0"/><rect x="515.10" y="445.90" width="3.9" height="21.70" rx="1.6" fill="#1a7ff0"/><rect x="521.05" y="442.70" width="3.9" height="24.90" rx="1.6" fill="#1a7ff0"/><rect x="527.00" y="444.40" width="3.9" height="23.20" rx="1.6" fill="#1a7ff0"/><rect x="532.95" y="440.60" width="3.9" height="27.00" rx="1.6" fill="#1a7ff0"/><rect x="538.90" y="439.50" width="3.9" height="28.10" rx="1.6" fill="#1a7ff0"/><rect x="544.85" y="440.10" width="3.9" height="27.50" rx="1.6" fill="#1a7ff0"/><rect x="550.80" y="438.00" width="3.9" height="29.60" rx="1.6" fill="#1a7ff0"/><rect x="556.75" y="439.50" width="3.9" height="28.10" rx="1.6" fill="#1a7ff0"/><rect x="562.70" y="438.00" width="3.9" height="29.60" rx="1.6" fill="#1a7ff0"/><rect x="568.65" y="441.20" width="3.9" height="26.40" rx="1.6" fill="#1a7ff0"/><rect x="574.60" y="441.80" width="3.9" height="25.80" rx="1.6" fill="#1a7ff0"/><rect x="580.55" y="438.40" width="3.9" height="29.20" rx="1.6" fill="#1a7ff0"/><rect x="586.50" y="438.00" width="3.9" height="29.60" rx="1.6" fill="#1a7ff0"/><rect x="592.45" y="437.30" width="3.9" height="30.30" rx="1.6" fill="#1a7ff0"/><rect x="598.40" y="437.30" width="3.9" height="30.30" rx="1.6" fill="#1a7ff0"/><rect x="604.35" y="436.30" width="3.9" height="31.30" rx="1.6" fill="#1a7ff0"/><rect x="610.30" y="438.00" width="3.9" height="29.60" rx="1.6" fill="#1a7ff0"/><rect x="616.25" y="439.50" width="3.9" height="28.10" rx="1.6" fill="#1a7ff0"/><rect x="622.20" y="440.10" width="3.9" height="27.50" rx="1.6" fill="#1a7ff0"/><rect x="628.15" y="440.80" width="3.9" height="26.80" rx="1.6" fill="#1a7ff0"/><rect x="634.10" y="440.10" width="3.9" height="27.50" rx="1.6" fill="#1a7ff0"/><rect x="640.05" y="439.00" width="3.9" height="28.60" rx="1.6" fill="#1a7ff0"/><rect x="646.00" y="438.00" width="3.9" height="29.60" rx="1.6" fill="#1a7ff0"/><rect x="651.95" y="438.80" width="3.9" height="28.80" rx="1.6" fill="#1a7ff0"/><rect x="657.90" y="438.80" width="3.9" height="28.80" rx="1.6" fill="#1a7ff0"/><rect x="663.85" y="438.00" width="3.9" height="29.60" rx="1.6" fill="#1a7ff0"/><rect x="669.80" y="438.80" width="3.9" height="28.80" rx="1.6" fill="#1a7ff0"/><rect x="675.75" y="438.80" width="3.9" height="28.80" rx="1.6" fill="#1a7ff0"/><rect x="681.70" y="439.30" width="3.9" height="28.30" rx="1.6" fill="#1a7ff0"/><rect x="719.20" y="437.30" width="4.1" height="30.30" rx="1.6" fill="#fbd8b4"/><rect x="725.25" y="436.20" width="4.1" height="31.40" rx="1.6" fill="#fbd8b4"/><rect x="731.30" y="435.80" width="4.1" height="31.80" rx="1.6" fill="#fbd8b4"/><rect x="737.35" y="435.80" width="4.1" height="31.80" rx="1.6" fill="#f0821e"/><rect x="743.40" y="436.20" width="4.1" height="31.40" rx="1.6" fill="#f0821e"/><rect x="749.45" y="435.80" width="4.1" height="31.80" rx="1.6" fill="#f0821e"/><rect x="755.50" y="435.20" width="4.1" height="32.40" rx="1.6" fill="#f0821e"/><rect x="761.55" y="435.80" width="4.1" height="31.80" rx="1.6" fill="#f0821e"/><rect x="767.60" y="435.80" width="4.1" height="31.80" rx="1.6" fill="#f0821e"/><rect x="773.65" y="434.10" width="4.1" height="33.50" rx="1.6" fill="#f0821e"/><rect x="779.70" y="434.10" width="4.1" height="33.50" rx="1.6" fill="#f0821e"/><rect x="785.75" y="434.10" width="4.1" height="33.50" rx="1.6" fill="#f0821e"/><rect x="791.80" y="435.20" width="4.1" height="32.40" rx="1.6" fill="#f0821e"/><rect x="797.85" y="434.10" width="4.1" height="33.50" rx="1.6" fill="#f0821e"/><rect x="803.90" y="434.10" width="4.1" height="33.50" rx="1.6" fill="#f0821e"/><rect x="809.95" y="435.20" width="4.1" height="32.40" rx="1.6" fill="#f0821e"/><rect x="816.00" y="434.10" width="4.1" height="33.50" rx="1.6" fill="#f0821e"/><rect x="822.05" y="434.10" width="4.1" height="33.50" rx="1.6" fill="#f0821e"/><rect x="828.10" y="434.10" width="4.1" height="33.50" rx="1.6" fill="#f0821e"/><rect x="834.15" y="434.10" width="4.1" height="33.50" rx="1.6" fill="#f0821e"/><rect x="840.20" y="434.10" width="4.1" height="33.50" rx="1.6" fill="#f0821e"/><rect x="846.25" y="434.10" width="4.1" height="33.50" rx="1.6" fill="#f0821e"/><rect x="852.30" y="434.60" width="4.1" height="33.00" rx="1.6" fill="#f0821e"/><rect x="858.35" y="434.10" width="4.1" height="33.50" rx="1.6" fill="#f0821e"/><rect x="864.40" y="434.10" width="4.1" height="33.50" rx="1.6" fill="#f0821e"/><rect x="870.45" y="434.10" width="4.1" height="33.50" rx="1.6" fill="#f0821e"/><rect x="876.50" y="434.10" width="4.1" height="33.50" rx="1.6" fill="#f0821e"/><rect x="882.55" y="433.20" width="4.1" height="34.40" rx="1.6" fill="#f0821e"/><rect x="888.60" y="433.20" width="4.1" height="34.40" rx="1.6" fill="#f0821e"/><rect x="894.65" y="434.10" width="4.1" height="33.50" rx="1.6" fill="#f0821e"/><rect x="900.70" y="433.20" width="4.1" height="34.40" rx="1.6" fill="#f0821e"/><rect x="906.75" y="434.10" width="4.1" height="33.50" rx="1.6" fill="#f0821e"/><rect x="912.80" y="433.20" width="4.1" height="34.40" rx="1.6" fill="#f0821e"/><rect x="918.85" y="433.20" width="4.1" height="34.40" rx="1.6" fill="#f0821e"/></svg>

<div class="trow" style="left:943.2px;top:400.4px"><div class="badge" style="background:#2d93de;">1-5</div><div class="pct">53%</div><div class="vsep"></div><div class="val">71</div><div class="dl" style="color:#4caf50">+50</div></div><div class="trow" style="left:943.2px;top:433.8px"><div class="badge" style="background:#1f8f63;">1-10</div><div class="pct">74%</div><div class="vsep"></div><div class="val">99</div><div class="dl" style="color:#4caf50">+47</div></div><div class="trow" style="left:943.2px;top:467.3px"><div class="badge" style="background:#1fba96;">11-30</div><div class="pct">5%</div><div class="vsep"></div><div class="val">6</div><div class="dl" style="color:#e2584a"><span style="display:inline-block;transform:scaleX(.62);margin:0 -1.3px">–</span>21</div></div><div class="trow" style="left:1186.5px;top:400.4px"><div class="badge" style="background:#8fd68d;font-weight:400;">31-50</div><div class="pct">0%</div><div class="vsep"></div><div class="val">0</div><div class="dl" style="color:#e2584a"><span style="display:inline-block;transform:scaleX(.62);margin:0 -1.3px">–</span>2</div></div><div class="trow" style="left:1186.5px;top:433.8px"><div class="badge" style="background:#b9bfc4;font-weight:400;">51-100</div><div class="pct">2%</div><div class="vsep"></div><div class="val">3</div><div class="dl" style="color:#e2584a"><span style="display:inline-block;transform:scaleX(.62);margin:0 -1.3px">–</span>1</div></div><div class="trow" style="left:1186.5px;top:467.3px"><div class="badge" style="background:#fbbd35;font-weight:400;">100+</div><div class="pct">19%</div><div class="vsep"></div><div class="val">25</div><div class="dl" style="color:#e2584a"><span style="display:inline-block;transform:scaleX(.62);margin:0 -1.3px">–</span>3</div></div>
</div></body></html>
